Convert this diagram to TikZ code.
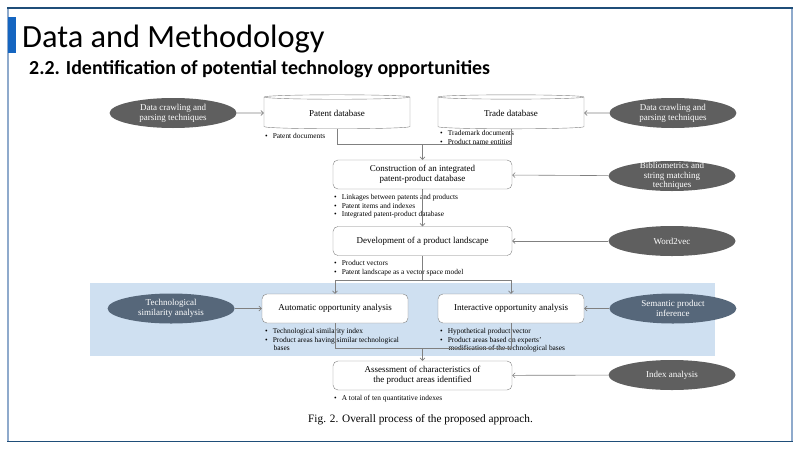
\documentclass[tikz,border=0pt]{standalone}
\usepackage{fontspec}
\setmainfont{Liberation Serif}
\newfontfamily\slidefont{Carlito}
\usetikzlibrary{arrows.meta,positioning,shapes.geometric}
\definecolor{SlideNavy}{RGB}{31,78,121}
\definecolor{SlideSteel}{RGB}{143,170,204}
\definecolor{AccentBlue}{RGB}{21,101,192}
\definecolor{BandBlue}{RGB}{207,224,241}
\definecolor{ToolGray}{RGB}{95,95,95}
\definecolor{ToolSlate}{RGB}{86,103,122}
\definecolor{LineGray}{RGB}{128,128,128}
\newcommand{\itm}{\textbullet\hspace{5pt}}

\begin{document}
\begin{tikzpicture}[x=1pt, y=-1pt, >={Straight Barb[length=2.5pt,width=5pt]},
    dbase/.style={cylinder, shape border rotate=90, aspect=0.08, draw=LineGray, fill=white, minimum width=146pt, minimum height=34pt, inner sep=0pt, font=\fontsize{9}{10.5}\selectfont},
    procbox/.style={draw=LineGray, rounded corners=5pt, fill=white, minimum width=179pt, minimum height=29pt, inner sep=1pt, align=center, font=\fontsize{9}{10.5}\selectfont},
    tool/.style={ellipse, fill=ToolGray, text=white, minimum width=127pt, minimum height=30pt, inner sep=0pt, align=center, font=\fontsize{9}{10}\selectfont},
    toolslate/.style={tool, fill=ToolSlate},
    note/.style={anchor=north west, align=left, inner sep=0pt, font=\fontsize{7.4}{8.8}\selectfont},
    link/.style={->, draw=LineGray, line width=0.6pt},
    line/.style={draw=LineGray, line width=0.6pt}]
    \useasboundingbox (0,0) rectangle (800,450);

    % slide frame and heading
    \draw[SlideSteel, line width=2pt] (8,8) -- (8,441.5);
    \draw[SlideSteel, line width=2pt] (792,8) -- (792,441.5);
    \draw[SlideNavy, line width=1.5pt] (7,8) -- (793,8);
    \draw[SlideNavy, line width=1.5pt] (7,441.5) -- (793,441.5);
    \fill[AccentBlue] (8,17) rectangle (16,53);
    \node[anchor=base west, inner sep=0pt, font=\slidefont\fontsize{32.4}{36}\selectfont] (title) at (22,47) {Data and Methodology};
    \node[anchor=base west, inner sep=0pt, font=\slidefont\bfseries\fontsize{19.9}{22}\selectfont] (subtitle) at (29,74) {2.2. Identification of potential technology opportunities};

    % analysis band
    \fill[BandBlue] (90,283) rectangle (715,356);

    % databases
    \node[dbase] (patent) at (337,113) {Patent database};
    \node[dbase] (trade) at (511,113) {Trade database};
    \node[tool, left=27pt of patent] (crawlA) {Data crawling and\\parsing techniques};
    \node[tool, right=25pt of trade] (crawlB) {Data crawling and\\parsing techniques};
    \node[note] (patentnote) at (265,133) {\itm Patent documents};
    \node[note] (tradenote) at (440,130.5) {\itm Trademark documents\\\itm Product name entities};

    % integrated database
    \node[procbox] (construct) at (422.5,174.5) {Construction of an integrated\\patent-product database};
    \node[tool, inner sep=-5pt, font=\fontsize{9}{9.6}\selectfont] (biblio) at (672,176) {Bibliometrics and\\string matching\\techniques};
    \node[note] (constructnote) at (334,194) {\itm Linkages between patents and products\\\itm Patent items and indexes\\\itm Integrated patent-product database};

    % product landscape
    \node[procbox] (develop) at (422.5,241) {Development of a product landscape};
    \node[tool] (wordvec) at (672,241) {Word2vec};
    \node[note] (developnote) at (334,260) {\itm Product vectors\\\itm Patent landscape as a vector space model};

    % opportunity analyses
    \node[procbox, minimum width=146pt] (auto) at (335,308.5) {Automatic opportunity analysis};
    \node[procbox, minimum width=146pt] (inter) at (511,308.5) {Interactive opportunity analysis};
    \node[toolslate, left=27pt of auto] (simil) {Technological\\similarity analysis};
    \node[toolslate, right=25pt of inter] (seman) {Semantic product\\inference};
    \node[note] (autonote) at (265,328) {\itm Technological similarity index\\\itm Product areas having similar technological\\\hspace{8.5pt}bases};
    \node[note] (internote) at (440,328) {\itm Hypothetical product vector\\\itm Product areas based on experts'\\\hspace{8.5pt}modification of the technological bases};

    % assessment
    \node[procbox] (assess) at (422.5,375.5) {Assessment of characteristics of\\the product areas identified};
    \node[tool] (index) at (672,375) {Index analysis};
    \node[note] (assessnote) at (334,395) {\itm A total of ten quantitative indexes};
    \node[anchor=base west, inner sep=0pt, font=\fontsize{11.3}{13}\selectfont] (caption) at (308,422) {Fig. 2. Overall process of the proposed approach.};

    % connectors
    \coordinate (dbjoin) at (422.5,144);
    \coordinate (split) at (422.5,280);
    \coordinate (anjoin) at (422.5,348);
    \draw[link] (crawlA) -- (patent);
    \draw[link] (crawlB) -- (trade);
    \draw[line] (patent.south) |- (dbjoin);
    \draw[line] (trade.south) |- (dbjoin);
    \draw[link] (dbjoin) -- (construct);
    \draw[link] (biblio) -- (construct);
    \draw[link] (construct) -- (develop);
    \draw[link] (wordvec) -- (develop);
    \draw[line] (develop) -- (split);
    \draw[link] (split) -| (auto);
    \draw[link] (split) -| (inter);
    \draw[link] (simil) -- (auto);
    \draw[link] (seman) -- (inter);
    \draw[line] (auto.south) |- (anjoin);
    \draw[line] (inter.south) |- (anjoin);
    \draw[link] (anjoin) -- (assess);
    \draw[link] (index) -- (assess);
\end{tikzpicture}
\end{document}
